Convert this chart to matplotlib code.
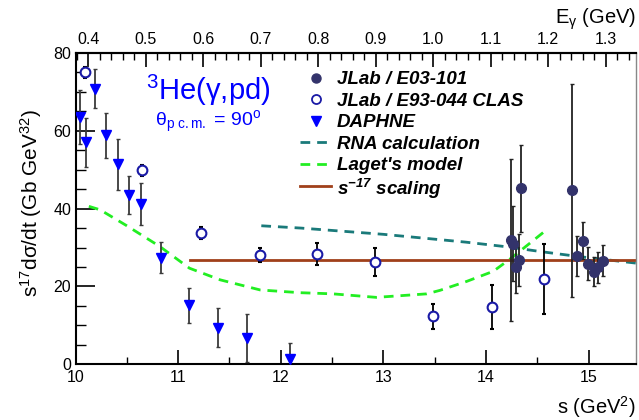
import matplotlib
matplotlib.use('Agg')
import matplotlib.pyplot as plt
from matplotlib.ticker import MultipleLocator, FixedLocator, FuncFormatter

plt.rcParams['font.family'] = ['Liberation Sans', 'DejaVu Sans']
plt.rcParams['mathtext.fontset'] = 'custom'
plt.rcParams['mathtext.rm'] = 'Liberation Sans'
plt.rcParams['mathtext.it'] = 'Liberation Sans:italic'
plt.rcParams['mathtext.bf'] = 'Liberation Sans:bold'
plt.rcParams['mathtext.default'] = 'regular'

# ---------------- data ----------------
daphne_s = [10.04, 10.10, 10.19, 10.30, 10.41, 10.52, 10.64, 10.83, 11.11, 11.39, 11.67, 12.09]
daphne_y = [63.5, 57.0, 70.8, 58.8, 51.4, 43.5, 41.2, 27.4, 15.2, 9.4, 6.8, 1.4]
daphne_err = [7.0, 6.2, 5.0, 5.8, 6.5, 4.8, 5.5, 4.0, 4.5, 5.0, 6.1, 4.0]

clas_s = [10.09, 10.65, 11.22, 11.80, 12.35, 12.92, 13.48, 14.06, 14.56]
clas_y = [75.1, 49.9, 33.7, 28.1, 28.3, 26.3, 12.3, 14.7, 22.0]
clas_err = [1.4, 1.4, 1.5, 1.7, 2.8, 3.7, 3.3, 5.6, 9.0]

e03_s = [14.24, 14.26, 14.29, 14.32, 14.34, 14.84, 14.89, 14.94, 14.99, 15.05, 15.09, 15.14]
e03_y = [31.9, 31.0, 25.1, 26.7, 45.2, 44.7, 27.8, 31.8, 25.9, 23.8, 24.9, 26.6]
e03_err = [20.9, 9.7, 6.7, 6.7, 11.1, 27.4, 5.2, 4.7, 4.2, 3.8, 3.9, 4.0]

rna_s = [11.81, 12.2, 13.0, 13.8, 14.2, 14.55, 14.9, 15.46]
rna_y = [35.6, 35.0, 33.4, 31.4, 30.2, 28.9, 27.7, 26.0]

laget_s = [10.13, 10.24, 10.50, 10.82, 11.11, 11.41, 11.80, 12.19, 12.51, 12.93, 13.42,
           13.55, 13.81, 14.07, 14.23, 14.43, 14.60]
laget_y = [40.6, 39.7, 35.6, 30.3, 24.7, 21.7, 19.1, 18.4, 18.1, 17.2, 18.1,
           19.0, 21.3, 23.9, 27.0, 31.2, 34.8]

scaling_s = [11.12, 15.46]
scaling_y = [26.7, 26.7]

egamma_ticks = [0.4, 0.5, 0.6, 0.7, 0.8, 0.9, 1.0, 1.1, 1.2, 1.3]

legend_labels = ['JLab / E03-101', 'JLab / E93-044 CLAS', 'DAPHNE', 'RNA calculation',
                 "Laget's model", r's$^{-17}$ scaling']

# ---------------- colours ----------------
c_daphne = '#0000ff'
c_clas = '#1a1aa6'
c_e03 = '#33336b'
c_rna = '#1a7a7a'
c_laget = '#22ee22'
c_scal = '#a0401a'

W, H = 639, 420
AX_L, AX_R, AX_T, AX_B = 75.5, 636.0, 53.0, 364.3

fig = plt.figure(figsize=(W / 100, H / 100), dpi=100)
ax = fig.add_axes([AX_L / W, 1 - AX_B / H, (AX_R - AX_L) / W, (AX_B - AX_T) / H])

def axpt(px, py):
    return (px - AX_L) / (AX_R - AX_L), (AX_B - py) / (AX_B - AX_T)

# models
ax.plot(rna_s, rna_y, color=c_rna, lw=2, dashes=(3.5, 2.5), zorder=2)
ax.plot(laget_s, laget_y, color=c_laget, lw=2, dashes=(3.5, 2.5), zorder=2)
ax.plot(scaling_s, scaling_y, color=c_scal, lw=2, zorder=2)

# data
ax.errorbar(daphne_s, daphne_y, yerr=daphne_err, fmt='v', color=c_daphne, ms=7,
            ecolor='#3a3a3a', elinewidth=1.3, capsize=1.5, zorder=4)
ax.errorbar(clas_s, clas_y, yerr=clas_err, fmt='o', mfc='white', mec=c_clas, mew=1.5, ms=7,
            ecolor='black', elinewidth=1.3, capsize=1.5, zorder=4)
ax.errorbar(e03_s, e03_y, yerr=e03_err, fmt='o', color=c_e03, ms=7,
            ecolor='#222222', elinewidth=1.3, capsize=1.5, zorder=5)

ax.set_xlim(10, 15.46)
ax.set_ylim(0, 80)

# axes styling
for sp in ['left', 'bottom', 'top']:
    ax.spines[sp].set_linewidth(1.5)
    ax.spines[sp].set_color('black')
ax.spines['right'].set_color('#888888')
ax.spines['right'].set_linewidth(1.0)

ax.xaxis.set_major_locator(MultipleLocator(1))
ax.xaxis.set_minor_locator(MultipleLocator(0.5))
ax.yaxis.set_major_locator(MultipleLocator(20))
ax.yaxis.set_minor_locator(MultipleLocator(5))
ax.tick_params(axis='x', which='major', direction='in', length=10, width=1.2, labelsize=11.5, pad=4, top=False)
ax.tick_params(axis='x', which='minor', direction='in', length=5, width=1.0, top=False)
ax.tick_params(axis='y', which='major', direction='in', length=14, width=1.2, labelsize=11.5, pad=3, right=False)
ax.tick_params(axis='y', which='minor', direction='in', length=7, width=1.0, right=False)

# top axis: photon energy
def e2s(e):
    return 7.885 + 5.6 * e

def s2e(s):
    return (s - 7.885) / 5.6

top = ax.secondary_xaxis('top', functions=(s2e, e2s))
top.xaxis.set_major_locator(FixedLocator(egamma_ticks))
top.xaxis.set_minor_locator(MultipleLocator(0.02))
top.xaxis.set_major_formatter(FuncFormatter(lambda v, p: f'{v:.1f}'))
top.tick_params(which='major', direction='in', length=10, width=1.2, labelsize=11.5, pad=4)
top.tick_params(which='minor', direction='in', length=5, width=1.0)
top.spines['top'].set_linewidth(1.5)

# axis titles
fig.text(636 / W, 1 - 19 / H, r'E$_{\gamma}$ (GeV)', ha='right', va='center', fontsize=14.5)
fig.text(636 / W, 1 - 407 / H, r's (GeV$^{2}$)', ha='right', va='center', fontsize=14.5)
fig.text(31 / W, 1 - 203 / H, r's$^{17}$d$\sigma$/dt (Gb GeV$^{32}$)', rotation=90,
         ha='center', va='center', fontsize=15)

# reaction annotation
ax.text(*axpt(208, 90), r'$^{3}$He($\gamma$,pd)', transform=ax.transAxes,
        color=c_daphne, fontsize=21, ha='center', va='center')
ax.text(*axpt(208, 122), r'$\theta_{p\ c.m.}$ = 90$^{o}$', transform=ax.transAxes,
        color=c_daphne, fontsize=14, ha='center', va='center')

# legend (drawn by hand for exact placement)
row0, drow = 77.5, 21.6
mk_x, ln_x0, ln_x1, tx_x = 316, 300, 331, 337
styles = [
    dict(kind='m', marker='o', color=c_e03, ms=6.5),
    dict(kind='m', marker='o', mfc='white', mec=c_clas, mew=1.3, ms=6.5),
    dict(kind='m', marker='v', color=c_daphne, ms=6.5),
    dict(kind='l', color=c_rna, lw=2, dashes=(3.5, 2.5)),
    dict(kind='l', color=c_laget, lw=2, dashes=(3.5, 2.5)),
    dict(kind='l', color=c_scal, lw=2),
]
for i, (lab, st) in enumerate(zip(legend_labels, styles)):
    py = row0 + drow * i
    st = dict(st)
    kind = st.pop('kind')
    if kind == 'm':
        x, y = axpt(mk_x, py)
        ax.plot([x], [y], ls='none', transform=ax.transAxes, clip_on=False, **st)
    else:
        x0, y0 = axpt(ln_x0, py)
        x1, _ = axpt(ln_x1, py)
        ax.plot([x0, x1], [y0, y0], transform=ax.transAxes, clip_on=False, **st)
    tx, ty = axpt(tx_x, py)
    ax.text(tx, ty, lab, transform=ax.transAxes, ha='left', va='center_baseline',
            fontsize=13.5, fontweight='bold', fontstyle='italic', color='black')

fig.savefig('out.png', dpi=100)
